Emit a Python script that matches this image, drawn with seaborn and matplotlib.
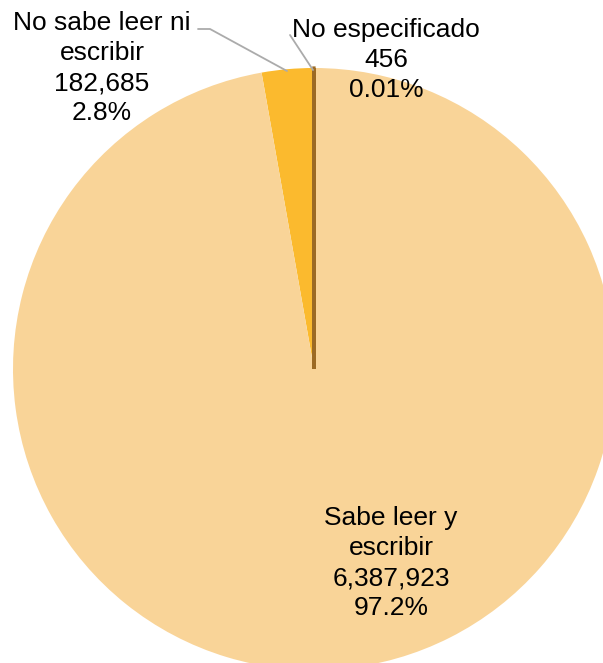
## Pie chart: poblacion segun condicion de alfabetismo

import matplotlib
matplotlib.use("Agg")
import matplotlib.pyplot as plt
import seaborn as sns

#----------------------------------------------------
# DATA
#----------------------------------------------------

categories = ["No especificado", "No sabe leer ni\nescribir", "Sabe leer y\nescribir"]
values = [456, 182685, 6387923]
pct_labels = ["0.01%", "2.8%", "97.2%"]
colors = ["#9C6A24", "#FBBA2E", "#F9D498"]

#----------------------------------------------------
# LAYOUT (pixels of the 603x663 picture)
#----------------------------------------------------

W, H = 603, 663
CX, CY, R = 314, 369, 301

def px(x, y):
    # pixel position -> data coords (pie centred at 0,0 with radius 1)
    return (x - CX) / R, (CY - y) / R

label_pos = [(386, 60), (102, 68), (391, 563)]
leaders = [
    [(290, 35), (313, 70)],
    [(198, 29), (210, 29), (287, 71)],
    None,
]

#----------------------------------------------------
# MAIN
#----------------------------------------------------

def main():
    sns.set_style("white")
    plt.rcParams["font.family"] = ["Liberation Sans", "DejaVu Sans"]

    fig = plt.figure(figsize=(W / 100, H / 100), dpi=100)
    ax = fig.add_axes([0, 0, 1, 1])

    wedges, _ = ax.pie(values, colors=colors, startangle=90, counterclock=True,
                       radius=1, center=(0, 0), frame=False)
    for i, w in enumerate(wedges):
        if i == 0:
            # tiny slice: show it as a thick line like the original
            w.set_edgecolor(colors[0])
            w.set_linewidth(2.3)
            w.set_zorder(5)
        else:
            w.set_linewidth(0)

    x0, y0 = px(0, H)
    x1, y1 = px(W, 0)
    ax.set_xlim(x0, x1)
    ax.set_ylim(y0, y1)
    ax.set_aspect("auto")
    ax.axis("off")

    for cat, v, p, pos, lead in zip(categories, values, pct_labels, label_pos, leaders):
        tx, ty = px(*pos)
        ax.text(tx, ty, f"{cat}\n{v:,}\n{p}", ha="center", va="center",
                fontsize=19, color="black", linespacing=1.32, zorder=6)
        if lead is not None:
            pts = [px(*q) for q in lead]
            ax.plot([q[0] for q in pts], [q[1] for q in pts], color="#ABABAB", lw=1.3,
                    zorder=6)

    fig.savefig("out.png", dpi=100)


if __name__ == '__main__':
    main()
